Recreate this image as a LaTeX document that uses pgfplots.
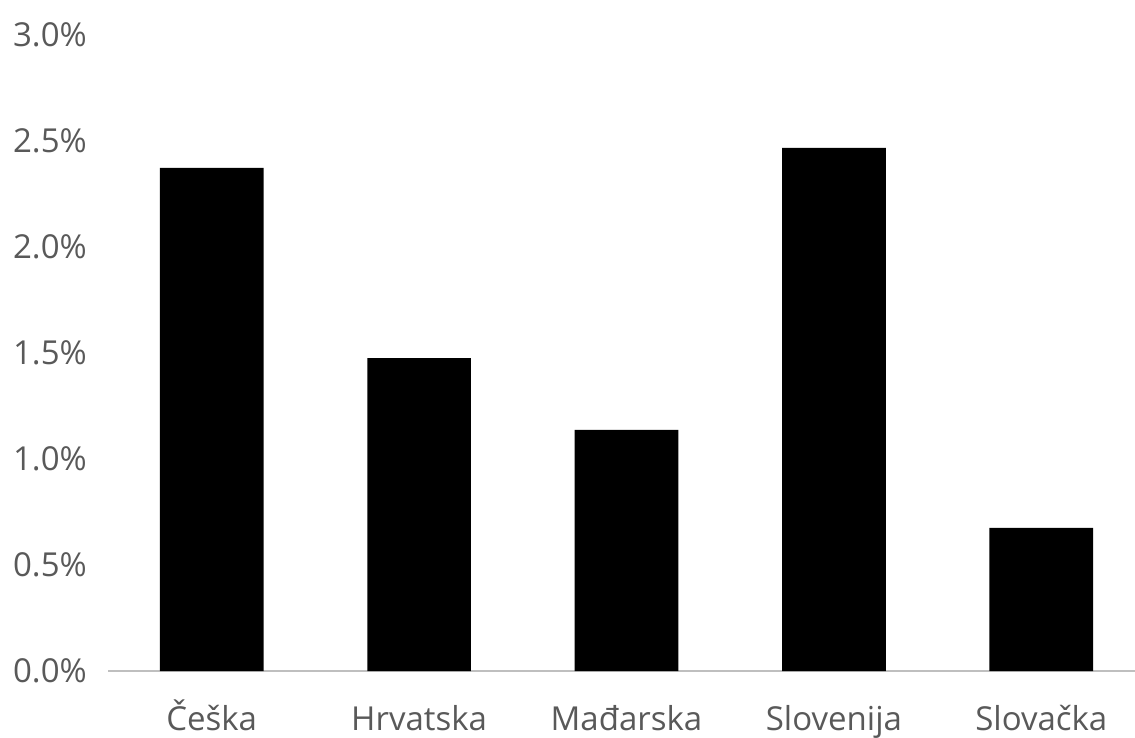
\documentclass[border=0pt]{standalone}
\usepackage{fontspec}
\setmainfont{Open Sans}
\usepackage{pgfplots}
\pgfplotsset{compat=1.18}
\definecolor{txt}{HTML}{595959}
\definecolor{axc}{HTML}{BFBFBF}
\begin{document}
\begin{tikzpicture}
\useasboundingbox (0,0) rectangle (1135bp,738bp);
\begin{axis}[
  at={(108bp,67bp)}, anchor=south west,
  scale only axis, width=1037bp, height=636bp,
  ybar, bar width=0.5,
  xmin=-0.5, xmax=4.5, ymin=0, ymax=3,
  axis x line=bottom, axis y line=left,
  x axis line style={-, draw=axc, line width=1.3bp},
  y axis line style={draw=none},
  major tick length=0pt,
  xtick={0,1,2,3,4},
  xticklabels={Češka,Hrvatska,Mađarska,Slovenija,Slovačka},
  ytick={0,0.5,1,1.5,2,2.5,3},
  yticklabels={0.0\%,0.5\%,1.0\%,1.5\%,2.0\%,2.5\%,3.0\%},
  ticklabel style={font=\fontsize{33bp}{40bp}\selectfont, text=txt, inner sep=0pt},
  xticklabel style={anchor=base, yshift=-59bp},
  yticklabel style={anchor=east, xshift=-21bp},
  clip=false,
]
\addplot[fill=black, draw=none] coordinates {(0,2.373) (1,1.476) (2,1.137) (3,2.467) (4,0.675)};
\end{axis}
\end{tikzpicture}
\end{document}
